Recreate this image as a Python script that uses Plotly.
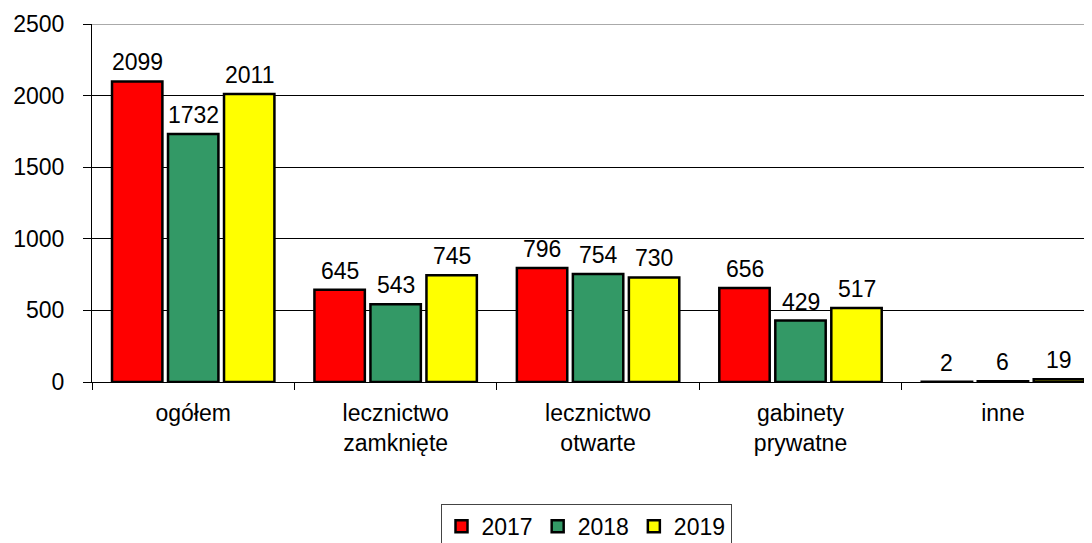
import plotly.graph_objects as go

categories = ["ogółem", "lecznictwo<br>zamknięte", "lecznictwo<br>otwarte", "gabinety<br>prywatne", "inne"]
years = ["2017", "2018", "2019"]
v2017 = [2099, 645, 796, 656, 2]
v2018 = [1732, 543, 754, 429, 6]
v2019 = [2011, 745, 730, 517, 19]
colors = ["#FF0000", "#339966", "#FFFF00"]

FONT = "Liberation Sans, Arial, sans-serif"
FS = 23
fig = go.Figure()
for name, vals, col in zip(years, [v2017, v2018, v2019], colors):
    fig.add_trace(go.Bar(
        x=categories, y=vals, name=name,
        marker=dict(color=col, line=dict(color="black", width=2.5)),
        cliponaxis=False,
    ))

# value labels above bars
for j, vals in enumerate([v2017, v2018, v2019]):
    for cat, v in zip(categories, vals):
        fig.add_annotation(x=cat, y=v, text=str(v), showarrow=False,
                           xshift=(j - 1) * 56, yshift=4, yanchor="bottom",
                           font=dict(family=FONT, size=FS, color="black"))

fig.update_layout(
    width=1084, height=535,
    margin=dict(l=84, r=0, t=16, b=161, autoexpand=False),
    paper_bgcolor="white", plot_bgcolor="white",
    barmode="group", bargap=0.17, bargroupgap=0.1,
    font=dict(family=FONT, size=FS, color="black"),
    showlegend=True,
    legend=dict(orientation="h", x=0.494, xanchor="center", y=-0.34, yanchor="top",
                bordercolor="#444444", borderwidth=1, bgcolor="white",
                font=dict(family=FONT, size=FS, color="black"),
                itemwidth=30, traceorder="normal"),
)
fig.update_xaxes(
    range=[-0.5, 4.44], showline=True, linecolor="black", linewidth=1,
    ticks="outside", tickson="boundaries", ticklen=7, tickcolor="black",
    showgrid=False, ticklabelstandoff=10, automargin=False,
    tickfont=dict(family=FONT, size=FS, color="black"),
)
fig.update_yaxes(
    range=[0, 2500], dtick=500, showline=True, linecolor="black", linewidth=1,
    ticks="outside", ticklen=8, tickcolor="black",
    showgrid=True, gridcolor="black", gridwidth=1,
    zeroline=False, ticklabelstandoff=14, automargin=False,
    tickfont=dict(family=FONT, size=FS, color="black"),
)
fig.add_shape(type="line", xref="paper", yref="y", x0=0, x1=1, y0=2500, y1=2500,
              line=dict(color="#AAAAAA", width=2), layer="above")

fig.write_html("out.html")
